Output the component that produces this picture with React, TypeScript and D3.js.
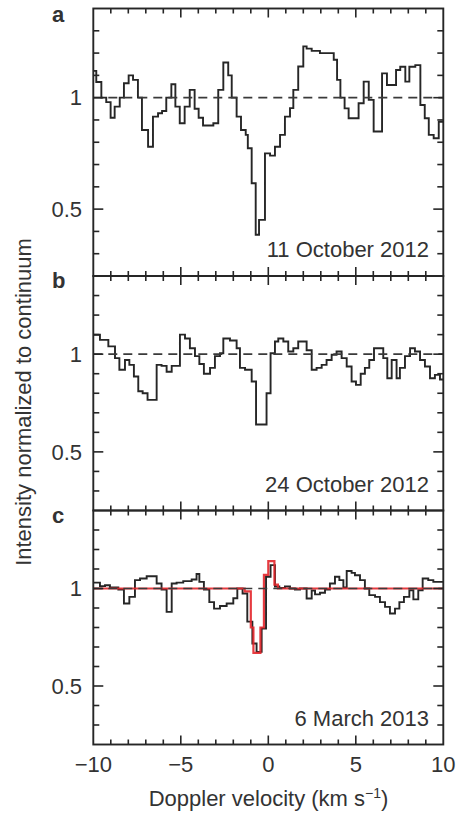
import React from "react";
import * as d3 from "d3";

// ---------- data ----------
const aVel = [-10, -9.83, -9.54, -9.26, -9.01, -8.78, -8.49, -8.25, -7.98, -7.73, -7.45, -7.22, -6.87, -6.59, -6.30, -6.07, -5.83, -5.54, -5.31, -5.06, -4.78, -4.49, -4.21, -3.98, -3.73, -3.14, -2.86, -2.57, -2.29, -2.09, -1.81, -1.56, -1.29, -1.17, -0.95, -0.72, -0.53, -0.19, 0.10, 0.38, 0.67, 0.95, 1.24, 1.43, 1.71, 2.00, 2.19, 2.48, 2.95, 3.74, 3.93, 4.12, 4.36, 4.59, 5.16, 5.45, 5.74, 6.02, 6.50, 6.78, 7.30, 7.54, 7.83, 8.06, 8.40, 8.69, 8.94, 9.17, 9.45, 9.74];
const aVal = [1.12, 1.07, 1.0, 0.98, 0.91, 0.96, 1.0, 1.065, 1.10, 1.08, 1.0, 0.855, 0.78, 0.915, 0.93, 0.94, 1.0, 1.06, 0.96, 0.885, 0.96, 1.035, 0.95, 0.91, 0.875, 0.885, 1.035, 1.158, 1.10, 1.0, 0.915, 0.855, 0.833, 0.773, 0.616, 0.385, 0.452, 0.75, 0.74, 0.78, 0.833, 0.915, 0.953, 1.035, 1.14, 1.23, 1.22, 1.21, 1.2, 1.17, 1.08, 1.0, 0.952, 0.908, 0.975, 1.072, 0.99, 0.848, 1.109, 1.057, 1.124, 1.139, 1.072, 1.139, 1.146, 0.967, 0.908, 0.833, 0.818, 0.892];

const bVel = [-10, -9.62, -9.14, -8.76, -8.51, -8.19, -7.94, -7.68, -7.43, -7.18, -6.90, -6.38, -6.10, -5.81, -5.52, -5.05, -4.76, -4.48, -4.19, -3.94, -3.68, -3.33, -3.05, -2.76, -2.57, -2.19, -1.81, -1.62, -1.33, -0.95, -0.70, -0.10, 0.13, 0.38, 0.57, 0.86, 1.14, 1.43, 1.71, 2.19, 2.48, 2.76, 3.05, 3.33, 3.62, 3.90, 4.19, 4.48, 4.76, 5.01, 5.28, 5.52, 5.77, 6.04, 6.57, 6.80, 7.05, 7.33, 7.52, 7.81, 8.10, 8.38, 8.67, 8.95, 9.24, 9.52, 9.81];
const bVal = [1.099, 1.073, 1.04, 0.98, 0.92, 0.97, 0.945, 0.886, 0.81, 0.80, 0.766, 0.945, 0.94, 0.91, 0.94, 1.10, 1.08, 1.03, 0.99, 0.95, 0.90, 0.93, 0.99, 1.005, 1.08, 1.07, 1.03, 0.93, 0.92, 0.86, 0.64, 0.80, 1.005, 1.065, 1.08, 1.065, 1.014, 1.03, 1.065, 1.02, 0.92, 0.93, 0.945, 0.97, 0.997, 1.014, 0.98, 0.937, 0.86, 0.843, 0.90, 0.93, 0.97, 1.03, 0.98, 0.877, 0.97, 0.877, 0.93, 0.99, 1.03, 1.014, 0.97, 0.937, 0.877, 0.894, 0.87];

const cVel = [-10, -9.62, -9.33, -9.05, -8.57, -8.25, -7.94, -7.62, -7.33, -6.95, -6.38, -6.10, -5.81, -5.52, -5.24, -4.86, -4.38, -4.10, -3.94, -3.68, -3.37, -3.10, -2.76, -2.38, -2.0, -1.77, -1.47, -1.2, -0.91, -0.67, -0.38, -0.13, 0.13, 0.38, 0.63, 0.95, 1.24, 1.52, 1.81, 2.19, 2.48, 2.67, 2.95, 3.24, 3.52, 3.81, 4.06, 4.29, 4.48, 4.76, 4.95, 5.24, 5.52, 5.77, 6.10, 6.38, 6.67, 6.95, 7.24, 7.49, 7.75, 8.06, 8.29, 8.57, 8.82, 9.14, 9.43];
const cVal = [1.03, 1.012, 1.017, 1.005, 0.995, 0.923, 0.957, 1.043, 1.051, 1.063, 1.026, 0.995, 0.88, 1.026, 1.03, 1.038, 1.046, 1.074, 1.034, 0.995, 0.93, 0.897, 0.91, 0.923, 0.95, 1.0, 0.974, 0.83, 0.718, 0.675, 0.795, 1.06, 1.12, 1.01, 1.003, 1.01, 1.0, 0.995, 1.0, 0.949, 0.99, 0.97, 0.978, 0.995, 1.026, 1.06, 1.043, 1.005, 1.09, 1.08, 1.068, 1.043, 1.0, 0.966, 0.957, 0.93, 0.906, 0.872, 0.897, 0.93, 0.957, 0.991, 0.944, 0.991, 1.051, 1.043, 1.034];

const fitVel = [-10, -1.35, -1.0, -0.85, -0.45, -0.25, 0.0, 0.35, 0.55];
const fitVal = [1.0, 0.985, 0.80, 0.67, 0.80, 1.07, 1.14, 1.02, 1.0];

const xTickLabels = [-10, -5, 0, 5, 10];
const yTickLabels = [0.5, 1];
const panelLetters = ["a", "b", "c"];
const panelDates = ["11 October 2012", "24 October 2012", "6 March 2013"];

// ---------- layout ----------
const W = 456;
const H = 815;
const X0 = 93.3;
const X1 = 443.3;
const panels = [
  { top: 8.5, bottom: 276, vel: aVel, val: aVal },
  { top: 276, bottom: 510.5, vel: bVel, val: bVal },
  { top: 510.5, bottom: 744.5, vel: cVel, val: cVal },
];

const FONT = "'Liberation Sans', Arial, Helvetica, sans-serif";
const TXT = "#333";
const INK = "#262626";
const FS = 22;

const x = d3.scaleLinear().domain([-10, 10]).range([X0, X1]);

function stepPath(vel: number[], val: number[], y: d3.ScaleLinear<number, number>) {
  const pts: [number, number][] = vel.map((v, i) => [v, val[i]]);
  pts.push([10, val[val.length - 1]]);
  return d3
    .line<[number, number]>()
    .x((d) => x(d[0]))
    .y((d) => y(d[1]))
    .curve(d3.curveStepAfter)(pts) as string;
}

export default function App() {
  const xMinor = d3.range(-9, 10, 1);
  const yMinor = d3.range(3, 14, 1).map((k) => k / 10);

  return (
    <svg
      width={W}
      height={H}
      style={{ position: "absolute", left: 0, top: 0, background: "#fff" }}
      fontFamily={FONT}
    >
      <rect x={0} y={0} width={W} height={H} fill="#fff" />
      {panels.map((p, pi) => {
        const y = d3.scaleLinear().domain([0.2, 1.4]).range([p.bottom, p.top]);
        return (
          <g key={pi}>
            {/* data trace */}
            <path d={stepPath(p.vel, p.val, y)} fill="none" stroke={INK} strokeWidth={1.9} />
            {pi === 2 && (
              <path d={stepPath(fitVel, fitVal, y)} fill="none" stroke="#e3262b" strokeWidth={2.2} opacity={0.9} />
            )}
            {/* continuum */}
            <line x1={X0} x2={X1} y1={y(1)} y2={y(1)} stroke="#3a3a3a" strokeWidth={1.7} strokeDasharray="9,6" />
            {/* frame */}
            <rect x={X0} y={p.top} width={X1 - X0} height={p.bottom - p.top} fill="none" stroke={INK} strokeWidth={1.9} />
            {/* x ticks, top & bottom, inward */}
            {xMinor.map((v) => {
              const len = v % 5 === 0 ? 9 : 5;
              return (
                <g key={"xt" + v}>
                  <line x1={x(v)} x2={x(v)} y1={p.top} y2={p.top + len} stroke={INK} strokeWidth={1.6} />
                  <line x1={x(v)} x2={x(v)} y1={p.bottom} y2={p.bottom - len} stroke={INK} strokeWidth={1.6} />
                </g>
              );
            })}
            {/* y ticks, left & right, inward */}
            {yMinor.map((v) => {
              const major = Math.abs(v - 0.5) < 1e-6 || Math.abs(v - 1) < 1e-6;
              const len = major ? 10 : 6;
              return (
                <g key={"yt" + v}>
                  <line x1={X0} x2={X0 + len} y1={y(v)} y2={y(v)} stroke={INK} strokeWidth={1.6} />
                  <line x1={X1} x2={X1 - len} y1={y(v)} y2={y(v)} stroke={INK} strokeWidth={1.6} />
                </g>
              );
            })}
            {/* y tick labels */}
            {yTickLabels.map((v) => (
              <text key={"yl" + v} x={82} y={y(v)} dy="0.35em" textAnchor="end" fontSize={FS} fill={TXT}>
                {String(v)}
              </text>
            ))}
            {/* panel letter */}
            <text x={52} y={p.top + (pi === 0 ? 13.5 : 12)} fontSize={FS} fontWeight="bold" fill={TXT}>
              {panelLetters[pi]}
            </text>
            {/* date */}
            <text x={429} y={p.bottom - 19} textAnchor="end" fontSize={FS} fill={TXT}>
              {panelDates[pi]}
            </text>
          </g>
        );
      })}
      {/* x tick labels */}
      {xTickLabels.map((v) => (
        <text key={"xl" + v} x={x(v)} y={772} textAnchor="middle" fontSize={FS} fill={TXT}>
          {v < 0 ? "\u2212" + Math.abs(v) : String(v)}
        </text>
      ))}
      {/* axis titles */}
      <text x={268.5} y={806} textAnchor="middle" fontSize={FS} fill={TXT}>
        Doppler velocity (km s
        <tspan fontSize={14} dy={-8}>{"\u22121"}</tspan>
        <tspan dy={8}>)</tspan>
      </text>
      <text
        transform={`translate(31,402) rotate(-90)`}
        textAnchor="middle"
        fontSize={FS}
        fill={TXT}
      >
        Intensity normalized to continuum
      </text>
    </svg>
  );
}
